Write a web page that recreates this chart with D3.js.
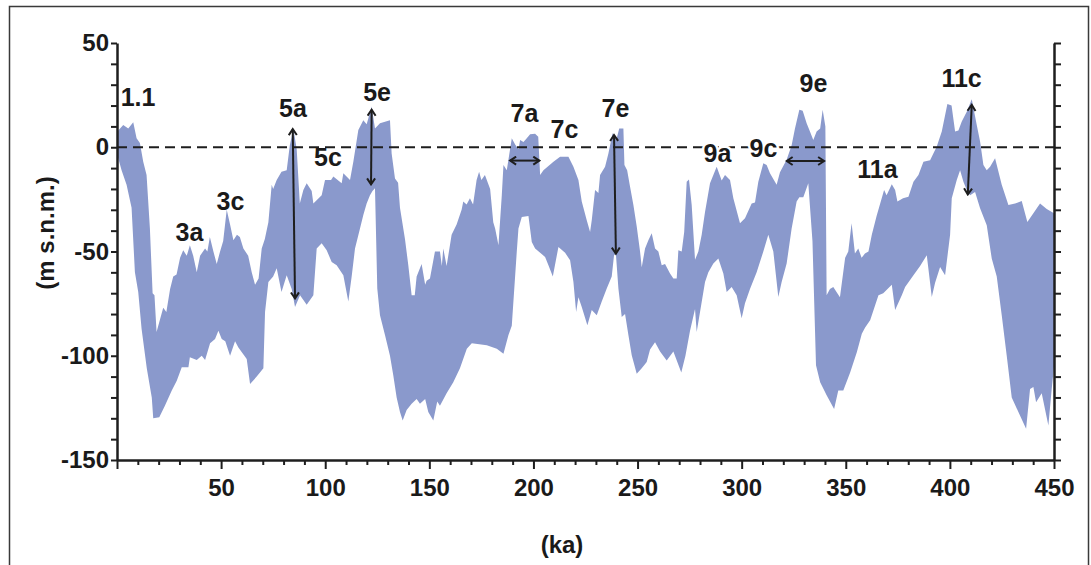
<!DOCTYPE html>
<html>
<head>
<meta charset="utf-8">
<script src="https://cdn.jsdelivr.net/npm/d3@7"></script>
<style>
  html, body { margin: 0; padding: 0; background: #fff; }
  svg { display: block; }
  text { font-family: "Liberation Sans", Arial, sans-serif; font-weight: bold; fill: #1a1a1a; }
</style>
</head>
<body>
<svg id="chart" width="1091" height="565"></svg>
<script>
// ---- Data (ka, m s.n.m.) ----
const upperEnvelope = [
[0,5],[0.6,8],[3,10.7],[5.4,9],[7.8,12],[9.4,4.3],[11,2],[12.6,-7],[14.2,-13.3],[15.8,-39],[17.1,-70],[18,-71],[19,-88.6],[22.2,-77],[23.7,-79],[25.5,-68],[27,-62],[28.6,-61],[30.3,-53],[31.8,-49.4],[33.5,-52],[35,-47],[36.6,-52],[38.3,-60],[39.9,-52],[42.3,-48.6],[43.4,-50],[44.6,-43],[46.3,-50],[47.9,-56],[49.5,-50],[51,-45],[52.7,-30],[54.3,-37],[55.9,-44.6],[57.6,-42],[59,-43],[60.7,-48.6],[63,-52],[64.7,-60],[66.3,-66],[68,-63],[69.5,-48.6],[71,-44],[72.7,-36],[74.3,-18],[75,-20],[76.7,-15.7],[79,-11.7],[81.5,-11],[83,1],[84.7,9],[86.3,-1],[87.8,-27],[89.5,-20.5],[91.1,-17.3],[93.5,-21],[94.3,-27],[98.3,-23],[99.9,-15.7],[102.8,-15.7],[103.9,-14],[107.9,-17.3],[108.7,-12.5],[111.9,-15.7],[113.5,-7],[115.9,8.3],[118.3,13],[119.9,11],[122.3,19.5],[123.9,9],[126.3,11.5],[131.1,13],[131.9,-3],[133.5,-15],[135,-17],[135.9,-29],[138.3,-44],[139.9,-56.6],[141.5,-71],[143,-71],[143.9,-62],[146.3,-56],[148,-66],[148.7,-64],[150.3,-63],[152.7,-50],[155.1,-50],[156,-57],[156.7,-48.6],[158.3,-57],[160.7,-42],[163.1,-37],[165.5,-30],[166.3,-26],[167.9,-27.5],[169.5,-24.5],[171,-27.5],[172.7,-15.7],[173.9,-11.7],[175,-15.7],[176.7,-13.3],[179.2,-20],[180.7,-36],[181.6,-39],[183.2,-47],[184.8,-23],[185.6,-8.5],[187.2,-11],[189.6,4.3],[191.2,1.3],[192.8,-1],[193.6,3.5],[195.2,2.5],[196.8,4.3],[198.4,6.2],[200.8,6.5],[202.3,5],[203.2,-13.3],[204.8,-11],[209.6,-7],[212.8,-4.5],[216.8,-4.5],[219.2,-9.3],[221.6,-15.7],[223.2,-26],[225.6,-35],[227.2,-40.6],[228,-35],[229.6,-20.5],[231.2,-22],[232,-13.3],[234.4,-9.3],[236,-3],[238,6.7],[239.9,4],[241.2,9],[243.2,9],[243.7,-8.5],[245,-11],[246.4,-19],[248,-27.7],[249.6,-38],[251.2,-50],[252,-57.5],[253.6,-48.6],[255.2,-44.6],[256.8,-41.3],[258.4,-48.6],[260,-50],[261.6,-56.6],[263.2,-56],[265.6,-60.6],[267.2,-63],[268.8,-63],[269.6,-49.4],[271.2,-50],[272.4,-40.6],[273.6,-16.5],[274.7,-15.5],[276,-27.7],[277.6,-54],[279.2,-50],[280.8,-42],[282.4,-31],[284.8,-17.3],[288,-9.3],[290.4,-16],[292,-13.3],[294.4,-15.7],[296,-24.5],[299.2,-36.5],[301.6,-34],[304.8,-27],[306.4,-26.5],[308,-16.5],[310.4,-7.7],[312,-8.5],[313.6,-12.5],[316.8,-18],[318.4,-12],[321.6,-6],[324,1],[325.6,9],[327.7,18],[329.3,17.5],[331.2,11.5],[332.8,7.5],[334.4,3.5],[336,7.5],[337.7,9],[338.9,18],[340.2,10],[340.8,-71],[342.4,-68],[344,-67],[347.2,-72],[349.7,-53],[351.2,-50],[352.8,-36.5],[354.4,-51],[356,-48.6],[357.6,-53],[359.2,-51],[360.9,-50],[362.5,-42],[364.8,-33],[368.4,-20.5],[369.6,-23],[372.1,-17.8],[373.7,-20.5],[374.8,-26],[377.5,-24.5],[380.1,-23.7],[382.5,-16.5],[384.9,-13.3],[387.3,-7],[390.5,-6.2],[393.7,0.3],[396.1,7.5],[398.8,20.7],[400.8,20],[402.5,7.5],[404.1,8],[405.7,12.3],[408.1,17],[410.5,23],[412.9,10.7],[414.5,2.8],[416.1,-8.5],[417.7,-11],[419.3,-9.3],[421.7,-5.3],[424.9,-18],[428.1,-27.7],[431.3,-27],[434.5,-25.8],[437.2,-35.8],[440.1,-31.7],[443.3,-27],[446.5,-29.6],[450,-31.7]
];
const lowerEnvelope = [
[0,-3],[0.6,-5.3],[2.2,-11],[4.6,-18],[7,-29],[8.6,-60],[10.2,-69.4],[11.8,-87],[14.3,-106],[16.7,-120],[17.4,-130],[20.3,-129.5],[23,-124],[26.3,-116.7],[28.7,-112],[31.1,-105.5],[34.3,-105.5],[35,-100.7],[38.3,-102],[40.7,-100],[42.3,-102],[44.7,-94],[47.1,-92],[48.7,-88],[50.3,-92],[52,-93],[54.3,-100],[56.7,-93],[58.3,-96],[62.3,-101.5],[63.9,-113.5],[67.1,-110],[70.3,-106],[71.1,-79],[72.7,-64.6],[75,-62],[76.7,-58],[79,-69.4],[81.5,-61.4],[83.9,-68],[85.5,-76.6],[87.9,-71],[91.1,-75.5],[94.3,-71],[95.9,-48.6],[98.3,-46],[100.7,-49.4],[103.1,-55],[105.5,-56.6],[108.7,-61.4],[111.1,-74],[112.7,-62],[114.3,-48.6],[116.7,-39],[118.3,-32.5],[119.9,-27],[121.5,-23],[122.7,-21],[123.9,-19.7],[125,-67.8],[126.3,-80.6],[128.7,-90],[131.1,-100],[132.7,-109.5],[134.3,-120],[135.9,-127],[137.2,-131],[139.1,-126],[141.5,-123],[143.9,-120.7],[145.5,-123],[148,-120.7],[149.5,-127],[151.9,-131],[153.8,-122],[155.1,-124],[158.3,-118],[161.5,-112.7],[164.7,-106],[168,-96.6],[170.4,-94],[177.6,-95],[182.4,-96.6],[185.6,-99],[188,-90],[189.6,-85.6],[192,-50],[192.8,-39],[194.4,-33.4],[197.6,-33],[199.2,-45.4],[200.8,-48.6],[205.6,-52.6],[207.2,-56.6],[209.3,-62],[212,-47.8],[215.2,-50.6],[217.6,-54.2],[219.2,-64.6],[220.5,-79],[221.6,-72],[223.2,-76.6],[225.9,-85.4],[228,-78],[230.4,-80.6],[232.8,-74],[235.2,-67.8],[237.6,-62],[238.7,-51.8],[239.6,-51.2],[240.8,-67.8],[242.4,-81.4],[244,-80],[245.6,-90],[247.2,-99.8],[249.6,-108.6],[252,-106],[254.4,-103],[256,-97],[258.4,-93.5],[260.8,-98],[264,-102.3],[267.2,-98],[271,-108],[273,-100],[275.2,-88],[277.6,-77.6],[278.4,-88.6],[280,-79],[282.4,-64.6],[284,-60],[286.4,-55.8],[288.8,-53.4],[291.2,-60.6],[292.8,-69.4],[295.2,-67],[297.6,-71],[300,-82],[301.6,-74.8],[304,-68],[307.2,-60],[310.4,-50],[312.8,-42],[315.2,-50],[317.6,-71.8],[319.2,-64.6],[321.6,-55.8],[324,-39],[326.4,-26],[327.7,-24],[329.6,-24],[332,-17.3],[334,-45],[335.7,-104.6],[337.7,-112.7],[340.8,-119],[344.4,-125.5],[346.4,-116.7],[348.8,-116.7],[352.1,-108],[355.3,-98.3],[357.7,-89.4],[359.3,-86.5],[361.7,-83],[364.1,-75.8],[365.7,-71],[368,-70],[372.1,-66],[373.7,-78],[376.9,-71],[378.5,-67],[382.5,-61.4],[385.7,-57],[388.9,-51.8],[391.3,-71.8],[392.9,-65],[395.3,-57.4],[397.7,-61.4],[400.1,-42],[400.9,-24.5],[403.3,-15.7],[404.9,-11],[406.5,-16.5],[408.1,-20.5],[409.7,-23],[412.1,-21.5],[414.5,-29.3],[417.7,-37.4],[420.1,-53.4],[422.5,-62],[424.9,-80.6],[427.3,-100],[429.7,-120],[432.9,-127],[436.6,-135],[438.5,-116],[440.1,-115],[441.4,-122.3],[444.1,-118],[447.3,-133.5],[448.9,-116],[450,-105]
];

// Axis tick labels
const xTickLabels = [50, 100, 150, 200, 250, 300, 350, 400, 450];
const yTickLabels = [-150, -100, -50, 0, 50];
const xTitle = "(ka)";
const yTitle = "(m s.n.m.)";

// Stage labels: text, ka, m (baseline)
const stageText = ["1.1","3a","3c","5a","5c","5e","7a","7c","7e","9a","9c","9e","11a","11c"];
const stageKa   = [10.1, 34.8, 54.5, 84.5, 101.3, 124.9, 195.7, 214.9, 239.4, 288.4, 310.5, 334.5, 365.2, 405.6];
const stageM    = [19.8, -45, -30.1, 14.5, -9, 22.2, 12.1, 4.4, 14.5, -7.1, -4.7, 26.5, -14.7, 28.9];

// Double arrows: [ka1, m1, ka2, m2]
const arrows = [
  [84.4, 8.7, 85.5, -72.5],
  [122.3, 18, 122.0, -17.8],
  [188.8, -6.4, 202.8, -6.4],
  [238.7, 5.9, 239.6, -51],
  [321.6, -6.6, 339.6, -6.6],
  [410.5, 20.3, 408.6, -22.6]
];

// ---- Drawing ----
const svg = d3.select("#chart");
const x = d3.scaleLinear().domain([0, 450]).range([117, 1054]);
const y = d3.scaleLinear().domain([-150, 50]).range([460, 43]);
const ink = "#1e1e1e";

// outer frame
svg.append("rect").attr("x", 9.5).attr("y", 6.5).attr("width", 1079).attr("height", 580)
  .attr("fill", "none").attr("stroke", "#3a3a3a").attr("stroke-width", 1.5);

// band
const poly = upperEnvelope.concat(lowerEnvelope.slice().reverse());
const line = d3.line().x(d => x(d[0])).y(d => y(d[1]));
svg.append("path").attr("d", line(poly) + "Z").attr("fill", "#8a99cc").attr("stroke", "none");

// zero dashed line
svg.append("line").attr("x1", x(0)).attr("x2", x(450)).attr("y1", y(0)).attr("y2", y(0))
  .attr("stroke", ink).attr("stroke-width", 2.2).attr("stroke-dasharray", "10,6");

// axes
const yTicks = d3.range(-150, 51, 10);
const xTicks = d3.range(0, 451, 10);
const fmtY = d => yTickLabels.includes(d) ? String(d) : "";
const fmtX = d => xTickLabels.includes(d) ? String(d) : "";

const gL = svg.append("g").attr("transform", `translate(${x(0)},0)`)
  .call(d3.axisLeft(y).tickValues(yTicks).tickFormat(fmtY).tickSize(6).tickSizeOuter(0).tickPadding(2));
const gR = svg.append("g").attr("transform", `translate(${x(450)},0)`)
  .call(d3.axisRight(y).tickValues(yTicks).tickFormat("").tickSize(7).tickSizeOuter(0));
const gB = svg.append("g").attr("transform", `translate(0,${y(-150)})`)
  .call(d3.axisBottom(x).tickValues(xTicks).tickFormat(fmtX).tickSize(5).tickSizeOuter(0).tickPadding(14));
gB.selectAll(".tick line").attr("y2", d => d % 50 === 0 ? 9 : 5);

[gL, gR, gB].forEach(g => {
  g.select(".domain").attr("stroke", ink).attr("stroke-width", 2.5);
  g.selectAll(".tick line").attr("stroke", ink).attr("stroke-width", 2);
  g.selectAll(".tick text").attr("font-size", 24).attr("font-weight", "bold")
    .attr("font-family", "Liberation Sans, Arial, sans-serif").attr("fill", ink);
});
gB.selectAll(".tick text").attr("dy", "0.71em");

// axis titles
svg.append("text").attr("x", 562).attr("y", 553).attr("text-anchor", "middle")
  .attr("font-size", 24).text(xTitle);
svg.append("text").attr("transform", "translate(54,233) rotate(-90)").attr("text-anchor", "middle")
  .attr("font-size", 24).text(yTitle);

// arrow marker
const defs = svg.append("defs");
defs.append("marker").attr("id", "ah").attr("viewBox", "-7 -5 9 10")
  .attr("refX", 0).attr("refY", 0).attr("markerWidth", 9).attr("markerHeight", 10)
  .attr("markerUnits", "userSpaceOnUse").attr("orient", "auto-start-reverse")
  .append("path").attr("d", "M-6,-4 L0,0 L-6,4").attr("fill", "none")
  .attr("stroke", ink).attr("stroke-width", 2);

svg.append("g").selectAll("line").data(arrows).join("line")
  .attr("x1", d => x(d[0])).attr("y1", d => y(d[1]))
  .attr("x2", d => x(d[2])).attr("y2", d => y(d[3]))
  .attr("stroke", ink).attr("stroke-width", 2)
  .attr("marker-start", "url(#ah)").attr("marker-end", "url(#ah)");

// stage labels
const haloed = ["9a", "9c"];
svg.append("g").selectAll("text").data(stageText).join("text")
  .attr("x", (d, i) => x(stageKa[i])).attr("y", (d, i) => y(stageM[i]))
  .attr("text-anchor", "middle").attr("font-size", 25)
  .attr("stroke", d => haloed.includes(d) ? "#fff" : "none")
  .attr("stroke-width", 5).attr("paint-order", "stroke")
  .text(d => d);
</script>
</body>
</html>
